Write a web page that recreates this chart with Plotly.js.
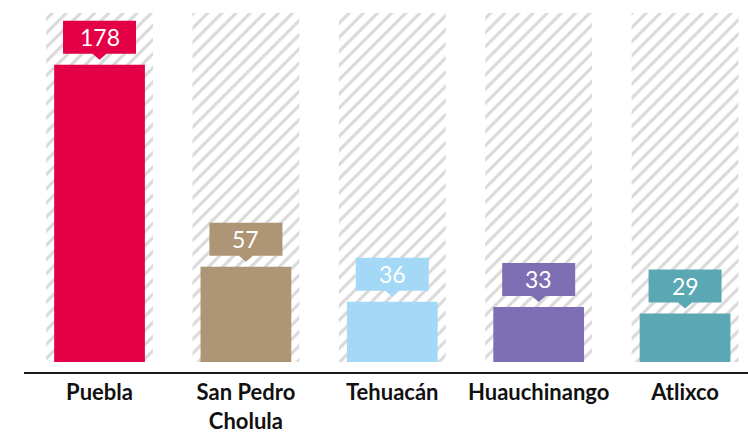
<!DOCTYPE html>
<html>
<head>
<meta charset="utf-8">
<script src="https://cdn.plot.ly/plotly-3.0.1.min.js"></script>
<style>
html,body{margin:0;padding:0;background:#fff;}
#chart{width:748px;height:434px;}
</style>
</head>
<body>
<div id="chart"></div>
<script>
const categories = ['Puebla', 'San Pedro<br>Cholula', 'Tehuacán', 'Huauchinango', 'Atlixco'];
const values = [178, 57, 36, 33, 29];
const backgroundValue = 209;
const barColors = ['#E40046', '#AE9575', '#A3D9F6', '#7E6EB3', '#5AA8B3'];

const bgValues = categories.map(() => backgroundValue);

const hatch = {
  type: 'bar',
  x: categories,
  y: bgValues,
  width: 0.73,
  marker: {
    color: '#ffffff',
    line: {width: 0},
    pattern: {shape: '/', fgcolor: '#d9d9d9', bgcolor: '#ffffff', size: 10, solidity: 0.3}
  },
  hoverinfo: 'skip',
  showlegend: false
};

const bars = {
  type: 'bar',
  x: categories,
  y: values,
  width: 0.62,
  marker: {color: barColors, line: {width: 0}},
  showlegend: false
};

const shapes = categories.map((c, i) => ({
  type: 'path',
  xref: 'x', yref: 'y',
  xsizemode: 'pixel', ysizemode: 'pixel',
  xanchor: i, yanchor: values[i],
  path: 'M-36.5,11 L-7,11 L0,5 L7,11 L36.5,11 L36.5,44 L-36.5,44 Z',
  fillcolor: barColors[i],
  line: {width: 0}
}));

const annotations = categories.map((c, i) => ({
  x: i, y: values[i], xref: 'x', yref: 'y',
  text: String(values[i]),
  showarrow: false,
  yanchor: 'middle',
  yshift: 28,
  font: {family: 'Lato, sans-serif', size: 23, color: '#ffffff'}
}));

const layout = {
  width: 748, height: 434,
  margin: {l: 24, r: 0, t: 13, b: 62},
  paper_bgcolor: '#ffffff',
  plot_bgcolor: '#ffffff',
  barmode: 'overlay',
  showlegend: false,
  xaxis: {
    type: 'category',
    range: [-0.516, 4.43],
    showline: true, linecolor: '#1a1a1a', linewidth: 2,
    showgrid: false, zeroline: false, ticks: '',
    ticklabelstandoff: 0,
    tickfont: {family: 'Lato, sans-serif', size: 22, color: '#111111', weight: 'bold'},
    fixedrange: true
  },
  yaxis: {
    range: [-6, 209],
    visible: false,
    showgrid: false, zeroline: false,
    fixedrange: true
  },
  shapes: shapes,
  annotations: annotations
};

Plotly.newPlot('chart', [hatch, bars], layout, {displayModeBar: false, staticPlot: true});
</script>
</body>
</html>
